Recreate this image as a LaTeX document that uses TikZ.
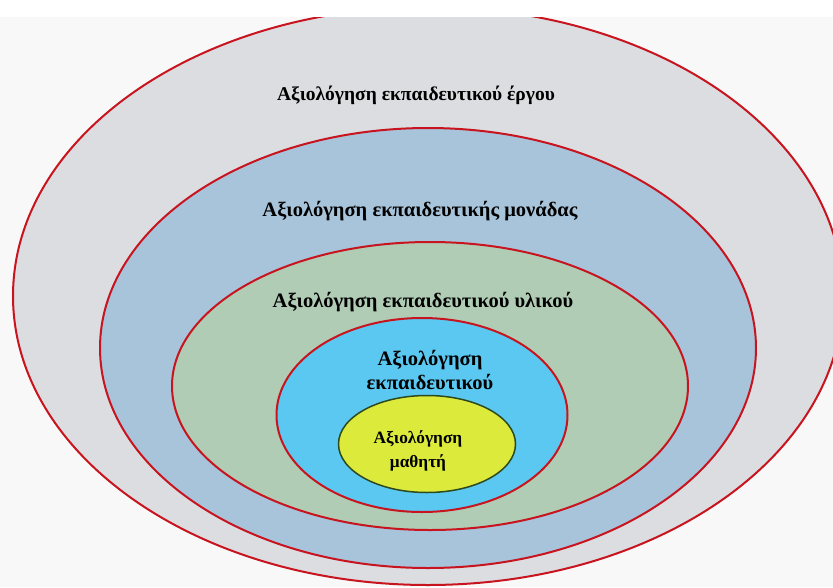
\documentclass[tikz,border=0pt]{standalone}
\usepackage{fontspec}
\setmainfont{Liberation Serif}
\definecolor{ringred}{HTML}{C8141E}
\definecolor{ergogray}{HTML}{DCDDE1}
\definecolor{monblue}{HTML}{A8C4DA}
\definecolor{ylgreen}{HTML}{B0CCB4}
\definecolor{ekpcyan}{HTML}{5AC8F0}
\definecolor{mathyel}{HTML}{DCEA3C}
\definecolor{yelrim}{HTML}{2D4A1E}
\definecolor{pagebg}{HTML}{F8F8F8}

\begin{document}
\begin{tikzpicture}[x=1pt,y=-1pt,
	ring/.style={draw=ringred, line width=2pt},
	lbl/.style={font=\bfseries\fontsize{#1}{24}\selectfont, align=center, inner sep=0pt}]
	%%%%% START %%%%%
	\def\xone{428}  \def\yone{296}
	\def\xtwo{428}  \def\ytwo{348}
	\def\xthree{430}\def\ythree{386}
	\def\xfour{422} \def\yfour{415}
	\def\xfive{427} \def\yfive{444}
	
	\useasboundingbox (0,0) rectangle (833,587);
	\fill[pagebg] (0,17) rectangle (833,587);
	
	\begin{scope}
		\clip (0,17) rectangle (833,587);
		\draw[ring, fill=ergogray] (\xone,\yone) ellipse (415pt and 289pt);
	\end{scope}
	\draw[ring, fill=monblue] (\xtwo,\ytwo) ellipse (328pt and 220pt);
	\draw[ring, fill=ylgreen] (\xthree,\ythree) ellipse (258pt and 144pt);
	\draw[ring, fill=ekpcyan] (\xfour,\yfour) ellipse (145.5pt and 97pt);
	\draw[draw=yelrim, line width=1.5pt, fill=mathyel] (\xfive,\yfive) ellipse (88.5pt and 48.5pt);
	
	%labels
	\node[lbl=19.5] (ergo) at (416,95) {Αξιολόγηση εκπαιδευτικού έργου};
	\node[lbl=20.5] (monada) at (420,211) {Αξιολόγηση εκπαιδευτικής μονάδας};
	\node[lbl=20.5] (yliko) at (423,302) {Αξιολόγηση εκπαιδευτικού υλικού};
	\node[lbl=20.5] (ekp) at (430,370) {Αξιολόγηση\\εκπαιδευτικού};
	\node[lbl=17.3] (math) at (418,451) {Αξιολόγηση\\μαθητή};
	%%%%% START %%%%%
\end{tikzpicture}
\end{document}
